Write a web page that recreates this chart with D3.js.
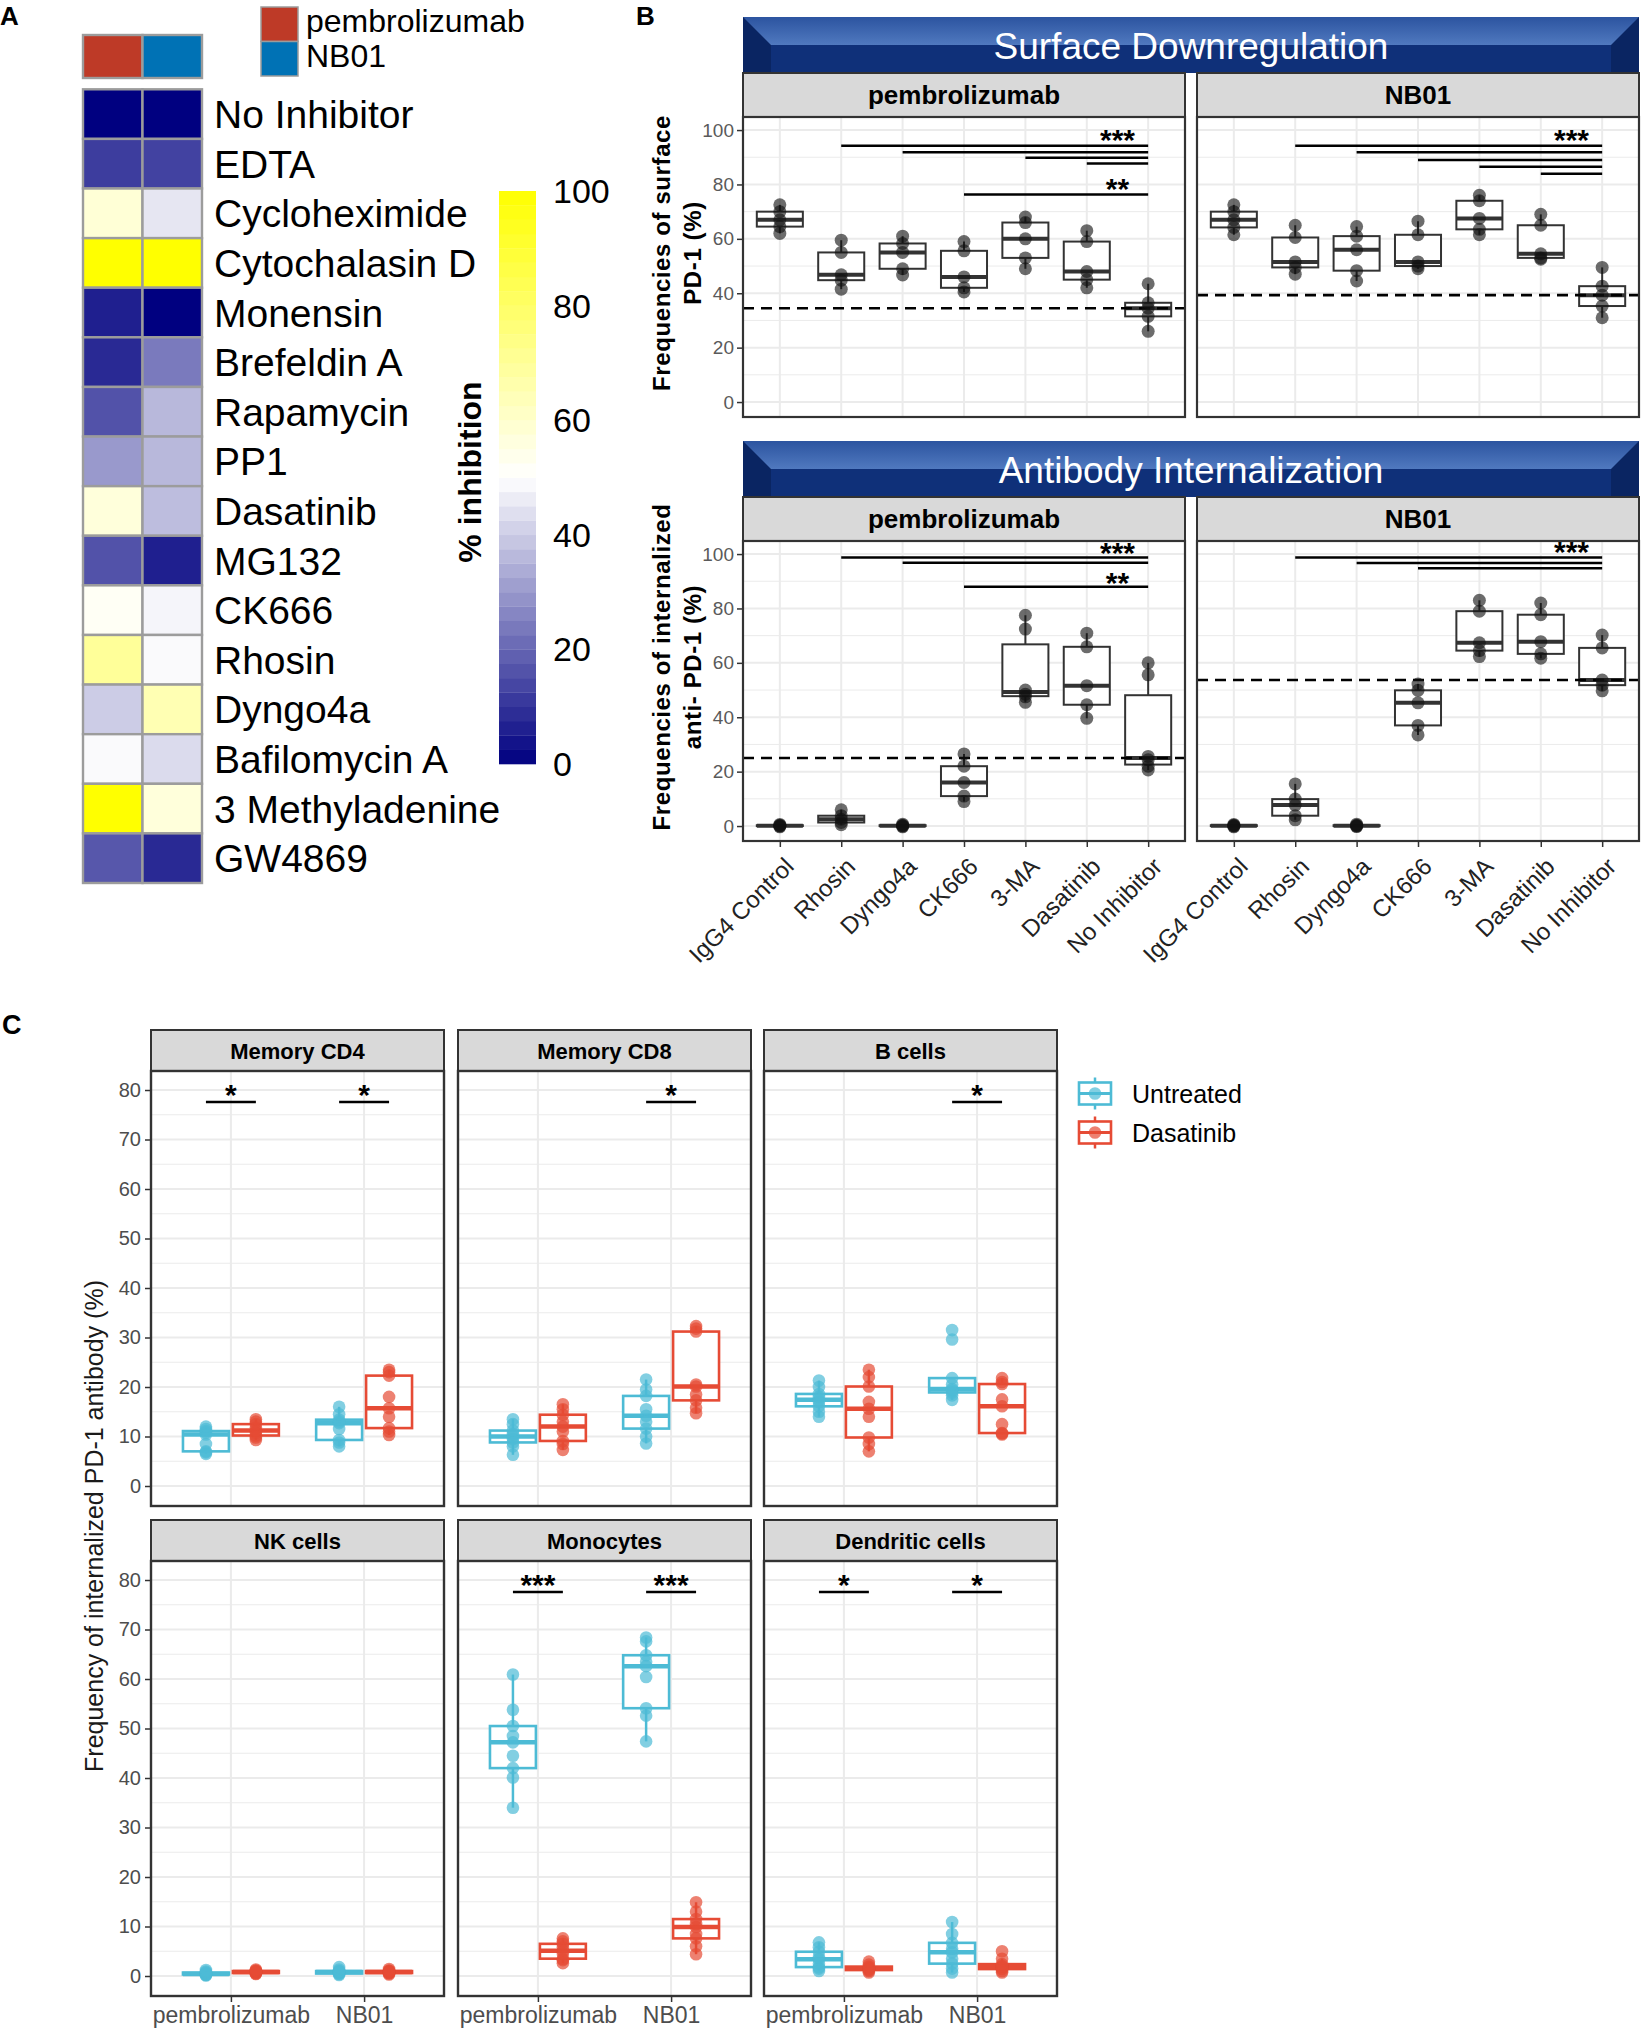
<!DOCTYPE html>
<html><head><meta charset="utf-8">
<script src="https://cdn.jsdelivr.net/npm/d3@7"></script>
<style>
body{margin:0;background:#fff}
svg{display:block}
text{font-family:"Liberation Sans",Arial,Helvetica,sans-serif}
</style>
</head><body>
<svg id="chart" width="1648" height="2030"></svg>
<script>
// ================= DATA =================
// Panel A: heatmap of % inhibition
const inhibitors = ["No Inhibitor","EDTA","Cycloheximide","Cytochalasin D","Monensin","Brefeldin A","Rapamycin","PP1","Dasatinib","MG132","CK666","Rhosin","Dyngo4a","Bafilomycin A","3 Methyladenine","GW4869"];
const antibodies = ["pembrolizumab","NB01"];
const antibodyColors = ["#BE3A27","#0072B5"];
const inhibPembro = [0,12,58,100,6,8,16,30,57,16,52,70,40,49,100,17];
const inhibNB01   = [0,13,45,100,0,24,36,36,37,6,48,49,65,43,57,8];
const colorbarTicks = [0,20,40,60,80,100];

// Panel B: box plots (points per group)
const bCats = ["IgG4 Control","Rhosin","Dyngo4a","CK666","3-MA","Dasatinib","No Inhibitor"];
const bTicks = [0,20,40,60,80,100];
const surfPembro = [[62,64.5,67,70,72.5],[41.5,44.8,46.8,55,59.5],[46.7,49,55,58.3,61],[40.5,42,46,55.6,59],[49,53,60,66,68],[42,45,48,59,63],[26,31.5,34.5,36.5,43.5]];
const surfNB01   = [[61.5,64.2,67,70,72.5],[47,49.5,51.5,60.5,65],[44.5,48.3,56,61,64.5],[49,50,51.5,61.5,66.5],[61.5,63.5,67.5,74,76],[52.5,53,54.5,65,69],[31,35.3,39.3,42.6,49.5]];
const intPembro  = [[-0.3,0,0.1,0.3,0.6],[0.5,1.3,2.5,3.8,6],[-0.3,0,0.1,0.3,0.7],[9,11,16,22,26.5],[45.5,47.5,48.5,50,72.4,77.5],[39.6,44.6,51.6,65.9,70.9],[20.6,22,24.4,25.6,55.6,60]];
const intNB01    = [[-0.3,0,0.1,0.3,0.6],[2.3,3.8,7.7,9.9,15.5],[-0.2,0,0.1,0.3,0.7],[33.5,37,45.3,49.9,52.2],[62.3,64.5,67.4,79,83],[61.7,63.3,67.8,77.7,82],[49.7,51.8,53.7,65.5,70.2]];
// significance: [from, to, y]
const sigSurfPembro = [["Rhosin","No Inhibitor",94.2],["Dyngo4a","No Inhibitor",91.8],["3-MA","No Inhibitor",89.8],["Dasatinib","No Inhibitor",87.7],["CK666","No Inhibitor",76.3]];
const lblSurfPembro = [["***",97.5],["**",79.5]];
const sigSurfNB01 = [["Rhosin","No Inhibitor",94.2],["Dyngo4a","No Inhibitor",91.8],["CK666","No Inhibitor",89],["3-MA","No Inhibitor",86.5],["Dasatinib","No Inhibitor",83.9]];
const lblSurfNB01 = [["***",97.5]];
const sigIntPembro = [["Rhosin","No Inhibitor",98.7],["Dyngo4a","No Inhibitor",96.8],["CK666","No Inhibitor",88]];
const lblIntPembro = [["***",101.3],["**",90.3]];
const sigIntNB01 = [["Rhosin","No Inhibitor",98.7],["Dyngo4a","No Inhibitor",96.7],["CK666","No Inhibitor",94.8]];
const lblIntNB01 = [["***",101.9]];

// Panel C: order within each cell type: pembro-Untreated, pembro-Dasatinib, NB01-Untreated, NB01-Dasatinib
const cCells = ["Memory CD4","Memory CD8","B cells","NK cells","Monocytes","Dendritic cells"];
const cTreatments = ["Untreated","Dasatinib"];
const cColors = ["#4DBBD5","#E64B35"];
const cTicks = [0,10,20,30,40,50,60,70,80];
const memCD4 = [[6.5,6.8,7.0,8.5,10.4,10.8,11.1,11.5,12],[9.3,9.8,10.2,10.8,11.2,11.8,12.5,13,13.5],[8,8.8,9.3,11.5,12.7,13,13.4,14.5,16],[10.3,11,11.7,14,15.7,18,22.3,23,23.5]];
const memCD8 = [[6.3,8,8.8,9.5,10,10.5,11.2,12.5,13.5],[7.3,8.5,9.1,11,12,13,14.4,15.5,16.5],[8.6,10,11.6,13,14.2,15.5,18.2,19.5,21.5],[14.7,15.8,17.3,18.5,20.1,20.5,31.2,31.8,32.3]];
const bCells = [[14,15,16.1,17,17.4,18,18.6,20,21.3],[7,8.5,9.8,14,15.6,17,20.1,22,23.5],[17.4,18.3,18.9,19.3,19.6,20.5,21.8,29.6,31.5],[10.4,10.6,10.7,12.5,16.1,17.5,20.6,21,21.8]];
const nkCells = [[0.1,0.2,0.3,0.4,0.4,0.5,0.7,0.9,1.2],[0.4,0.5,0.6,0.7,0.8,0.9,1.0,1.1,1.3],[0.2,0.4,0.5,0.6,0.8,0.9,1.0,1.3,1.8],[0.3,0.5,0.6,0.7,0.8,0.9,1.0,1.1,1.4]];
const monocytes = [[34,40.1,42,44.5,47.2,48.5,50.5,53.8,60.9],[2.6,3.2,3.5,4.5,5.1,5.8,6.5,7,7.6],[47.4,52.6,54.1,60.4,62.6,63.5,64.8,67.6,68.4],[4.4,6,7.6,8.5,9.9,10.5,11.5,13,14.9]];
const dendritic = [[1,1.5,1.8,2.5,3.4,3.8,4.9,5.8,6.8],[0.7,1.0,1.2,1.4,1.5,1.7,1.9,2.3,2.9],[0.7,1.5,2.5,3.5,4.8,5.5,6.7,8.5,10.9],[0.7,1.0,1.4,1.6,1.9,2.0,2.4,3.5,5]];
const cSig = [["Memory CD4","pembrolizumab","*"],["Memory CD4","NB01","*"],["Memory CD8","NB01","*"],["B cells","NB01","*"],["Monocytes","pembrolizumab","***"],["Monocytes","NB01","***"],["Dendritic cells","pembrolizumab","*"],["Dendritic cells","NB01","*"]];
const cSigLevel = 77.6;

// ================= DRAW =================
const svg = d3.select("#chart");
const STAR = 30;
function stats(v){
  const s = v.slice().sort(d3.ascending);
  const q1 = d3.quantile(s,0.25), med = d3.quantile(s,0.5), q3 = d3.quantile(s,0.75), iqr = q3-q1;
  return {q1, med, q3, lo: d3.min(s.filter(d=>d>=q1-1.5*iqr)), hi: d3.max(s.filter(d=>d<=q3+1.5*iqr))};
}
function label(t,x,y,size){ svg.append("text").attr("x",x).attr("y",y).attr("font-size",size).attr("font-weight","bold").text(t); }
label("A",0,25,26); label("B",636,25,26); label("C",2,1034,27);

// ---------- Panel A ----------
const colorA = d3.scaleLinear().domain([0,50,100]).range(["#000080","#ffffff","#ffff00"]);
const xA = d3.scaleBand().domain(antibodies).range([83,202]);
const yA = d3.scaleBand().domain(inhibitors).range([89.3,883]);
const gA = svg.append("g");
const hmVals = [inhibPembro, inhibNB01];
antibodies.forEach((ab,j)=>{
  gA.selectAll(null).data(inhibitors).join("rect")
    .attr("x",xA(ab)).attr("y",d=>yA(d)).attr("width",xA.bandwidth()).attr("height",yA.bandwidth())
    .attr("fill",(d,i)=>colorA(hmVals[j][i])).attr("stroke","#9c9c9c").attr("stroke-width",2.4);
});
gA.selectAll(null).data(antibodies).join("rect")
  .attr("x",d=>xA(d)).attr("y",35).attr("width",xA.bandwidth()).attr("height",43)
  .attr("fill",(d,i)=>antibodyColors[i]).attr("stroke","#9c9c9c").attr("stroke-width",2.4);
gA.selectAll(null).data(inhibitors).join("text")
  .attr("x",214).attr("y",d=>yA(d)+yA.bandwidth()/2+14).attr("font-size",39).attr("fill","#000").text(d=>d);
// annotation legend
const legA = d3.scaleBand().domain(antibodies).range([7,76]);
gA.selectAll(null).data(antibodies).join("rect")
  .attr("x",261).attr("y",d=>legA(d)).attr("width",37).attr("height",legA.bandwidth())
  .attr("fill",(d,i)=>antibodyColors[i]).attr("stroke","#9c9c9c").attr("stroke-width",1.5);
gA.selectAll(null).data(antibodies).join("text")
  .attr("x",306).attr("y",d=>legA(d)+legA.bandwidth()/2+8).attr("font-size",32).text(d=>d);
// colorbar
const yCB = d3.scaleLinear().domain([0,100]).range([764,191]);
const bandStep = 2.5;
gA.selectAll(null).data(d3.range(0,100,bandStep)).join("rect")
  .attr("x",499).attr("width",37).attr("y",d=>yCB(d+bandStep)).attr("height",d=>yCB(d)-yCB(d+bandStep)+0.3)
  .attr("fill",d=>colorA(d+bandStep/2));
gA.selectAll(null).data(colorbarTicks).join("text")
  .attr("x",553).attr("y",d=>yCB(d)+12).attr("font-size",34).text(d=>d);
gA.append("text").attr("transform","translate(481,472) rotate(-90)").attr("text-anchor","middle")
  .attr("font-size",32).attr("font-weight","bold").text("% inhibition");

// ---------- Panel B ----------
const bW = 442, bH = 300;
const bColX = [743,1197];
const bRowY = [117,541];
const yB = d3.scaleLinear().domain([-5.5,104.8]).range([bH,0]);
const xB = d3.scalePoint().domain(bCats).range([0,bW]).padding(0.6);
const bMinor = [10,30,50,70,90];
const banners = ["Surface Downregulation","Antibody Internalization"];
const bTitles = [["Frequencies of surface","PD-1 (%)"],["Frequencies of internalized","anti- PD-1 (%)"]];
const bTitleY = [253,667];
const bPanels = [
  {r:0,c:0,data:surfPembro,sig:sigSurfPembro,lbl:lblSurfPembro},
  {r:0,c:1,data:surfNB01,sig:sigSurfNB01,lbl:lblSurfNB01},
  {r:1,c:0,data:intPembro,sig:sigIntPembro,lbl:lblIntPembro},
  {r:1,c:1,data:intNB01,sig:sigIntNB01,lbl:lblIntNB01}
];
const defs = svg.append("defs");
const grad = defs.append("linearGradient").attr("id","bevTop").attr("x1",0).attr("y1",0).attr("x2",0).attr("y2",1);
grad.append("stop").attr("offset",0).attr("stop-color","#2C54A0");
grad.append("stop").attr("offset",1).attr("stop-color","#5079BF");

banners.forEach((t,r)=>{
  const top = bRowY[r]-44-56, x0 = bColX[0], x1 = bColX[1]+bW;
  const g = svg.append("g");
  g.append("rect").attr("x",x0).attr("y",top).attr("width",x1-x0).attr("height",56).attr("fill","#0A2562");
  g.append("rect").attr("x",x0+28).attr("y",top+28).attr("width",x1-x0-56).attr("height",28).attr("fill","#0F3079");
  g.append("polygon").attr("points",`${x0},${top} ${x1},${top} ${x1-28},${top+28} ${x0+28},${top+28}`).attr("fill","url(#bevTop)");
  g.append("text").attr("x",(x0+x1)/2).attr("y",top+42).attr("text-anchor","middle").attr("fill","#fff")
    .attr("font-size",37).text(t);
  bTitles[r].forEach((line,k)=>{
    svg.append("text").attr("transform",`translate(${670+k*31},${bTitleY[r]}) rotate(-90)`)
      .attr("text-anchor","middle").attr("font-size",24).attr("font-weight","bold").attr("letter-spacing",0.6).text(line);
  });
});

bPanels.forEach(p=>{
  const px = bColX[p.c], py = bRowY[p.r];
  svg.append("rect").attr("x",px).attr("y",py-44).attr("width",bW).attr("height",44).attr("fill","#D9D9D9").attr("stroke","#333").attr("stroke-width",2);
  svg.append("text").attr("x",px+bW/2).attr("y",py-44+22+9).attr("text-anchor","middle").attr("font-size",26).attr("font-weight","bold").text(antibodies[p.c]);
  const g = svg.append("g").attr("transform",`translate(${px},${py})`);
  g.append("rect").attr("width",bW).attr("height",bH).attr("fill","#fff");
  g.selectAll(null).data(bMinor).join("line").attr("x1",0).attr("x2",bW).attr("y1",d=>yB(d)).attr("y2",d=>yB(d)).attr("stroke","#EBEBEB").attr("stroke-width",1);
  g.selectAll(null).data(bTicks).join("line").attr("x1",0).attr("x2",bW).attr("y1",d=>yB(d)).attr("y2",d=>yB(d)).attr("stroke","#EBEBEB").attr("stroke-width",2);
  g.selectAll(null).data(bCats).join("line").attr("y1",0).attr("y2",bH).attr("x1",d=>xB(d)).attr("x2",d=>xB(d)).attr("stroke","#EBEBEB").attr("stroke-width",2);
  const bw = xB.step()*0.75;
  bCats.forEach((c,i)=>{
    const s = stats(p.data[i]), cx = xB(c);
    g.append("line").attr("x1",cx).attr("x2",cx).attr("y1",yB(s.hi)).attr("y2",yB(s.q3)).attr("stroke","#333").attr("stroke-width",2);
    g.append("line").attr("x1",cx).attr("x2",cx).attr("y1",yB(s.q1)).attr("y2",yB(s.lo)).attr("stroke","#333").attr("stroke-width",2);
    g.append("rect").attr("x",cx-bw/2).attr("width",bw).attr("y",yB(s.q3)).attr("height",Math.max(0.5,yB(s.q1)-yB(s.q3)))
      .attr("fill","#fff").attr("stroke","#333").attr("stroke-width",2);
    g.append("line").attr("x1",cx-bw/2).attr("x2",cx+bw/2).attr("y1",yB(s.med)).attr("y2",yB(s.med)).attr("stroke","#333").attr("stroke-width",4);
  });
  const ref = stats(p.data[bCats.indexOf("No Inhibitor")]).med;
  g.append("line").attr("x1",0).attr("x2",bW).attr("y1",yB(ref)).attr("y2",yB(ref)).attr("stroke","#000").attr("stroke-width",2.6).attr("stroke-dasharray","11,7");
  bCats.forEach((c,i)=>{
    g.selectAll(null).data(p.data[i]).join("circle").attr("cx",xB(c)).attr("cy",d=>yB(d)).attr("r",6.5).attr("fill","#111").attr("fill-opacity",0.62);
  });
  g.selectAll(null).data(p.sig).join("line").attr("x1",d=>xB(d[0])).attr("x2",d=>xB(d[1])).attr("y1",d=>yB(d[2])).attr("y2",d=>yB(d[2])).attr("stroke","#000").attr("stroke-width",2.5);
  const lx = (xB("Dasatinib")+xB("No Inhibitor"))/2;
  g.selectAll(null).data(p.lbl).join("text").attr("x",lx).attr("y",d=>yB(d[1])+0.43*STAR).attr("text-anchor","middle").attr("font-size",STAR).attr("font-weight","bold").text(d=>d[0]);
  g.append("rect").attr("width",bW).attr("height",bH).attr("fill","none").attr("stroke","#333").attr("stroke-width",2.2);
  if(p.c===0){
    const ax = g.append("g").call(d3.axisLeft(yB).tickValues(bTicks).tickSize(6).tickPadding(3));
    ax.select(".domain").remove();
    ax.selectAll("line").attr("stroke","#333").attr("stroke-width",1.5);
    ax.selectAll("text").attr("font-size",19).attr("fill","#5a5a5a").attr("font-family",'"Liberation Sans",Arial,sans-serif');
  }
  if(p.r===1){
    const ax = g.append("g").attr("transform",`translate(0,${bH})`).call(d3.axisBottom(xB).tickSize(6));
    ax.select(".domain").remove();
    ax.selectAll("line").attr("stroke","#333").attr("stroke-width",1.5);
    ax.selectAll("text").attr("font-size",24).attr("fill","#222").attr("font-family",'"Liberation Sans",Arial,sans-serif')
      .attr("text-anchor","end").attr("dy",null).attr("y",null).attr("transform","translate(15,27) rotate(-45)");
  }
});

// ---------- Panel C ----------
const cW = 293, cH = 435;
const cColX = [151,458,764];
const cRowY = [1071,1561];
const yC = d3.scaleLinear().domain([-4.04,83.84]).range([cH,0]);
const xC = d3.scalePoint().domain(antibodies).range([0,cW]).padding(0.6);
const cMinor = d3.range(5,80,10);
const cData = [memCD4, memCD8, bCells, nkCells, monocytes, dendritic];
const dodge = xC.step()*0.1875;
const cbw = xC.step()*0.345;
cCells.forEach((cell,k)=>{
  const r = Math.floor(k/3), c = k%3, px = cColX[c], py = cRowY[r];
  svg.append("rect").attr("x",px).attr("y",py-41).attr("width",cW).attr("height",41).attr("fill","#D9D9D9").attr("stroke","#333").attr("stroke-width",2);
  svg.append("text").attr("x",px+cW/2).attr("y",py-41+20.5+8).attr("text-anchor","middle").attr("font-size",22).attr("font-weight","bold").text(cell);
  const g = svg.append("g").attr("transform",`translate(${px},${py})`);
  g.append("rect").attr("width",cW).attr("height",cH).attr("fill","#fff");
  g.selectAll(null).data(cMinor).join("line").attr("x1",0).attr("x2",cW).attr("y1",d=>yC(d)).attr("y2",d=>yC(d)).attr("stroke","#EBEBEB").attr("stroke-width",1.2);
  g.selectAll(null).data(cTicks).join("line").attr("x1",0).attr("x2",cW).attr("y1",d=>yC(d)).attr("y2",d=>yC(d)).attr("stroke","#EBEBEB").attr("stroke-width",2);
  g.selectAll(null).data(antibodies).join("line").attr("y1",0).attr("y2",cH).attr("x1",d=>xC(d)).attr("x2",d=>xC(d)).attr("stroke","#EBEBEB").attr("stroke-width",2);
  const groups = [];
  antibodies.forEach((ab,a)=>cTreatments.forEach((tr,t)=>groups.push({cx:xC(ab)+(t===0?-dodge:dodge), col:cColors[t], vals:cData[k][a*2+t]})));
  groups.forEach(gr=>{
    const s = stats(gr.vals);
    g.append("line").attr("x1",gr.cx).attr("x2",gr.cx).attr("y1",yC(s.hi)).attr("y2",yC(s.q3)).attr("stroke",gr.col).attr("stroke-width",2.5);
    g.append("line").attr("x1",gr.cx).attr("x2",gr.cx).attr("y1",yC(s.q1)).attr("y2",yC(s.lo)).attr("stroke",gr.col).attr("stroke-width",2.5);
    g.append("rect").attr("x",gr.cx-cbw/2).attr("width",cbw).attr("y",yC(s.q3)).attr("height",Math.max(0.5,yC(s.q1)-yC(s.q3)))
      .attr("fill","#fff").attr("stroke",gr.col).attr("stroke-width",2.6);
    g.append("line").attr("x1",gr.cx-cbw/2).attr("x2",gr.cx+cbw/2).attr("y1",yC(s.med)).attr("y2",yC(s.med)).attr("stroke",gr.col).attr("stroke-width",4.5);
  });
  groups.forEach(gr=>{
    g.selectAll(null).data(gr.vals).join("circle").attr("cx",gr.cx).attr("cy",d=>yC(d)).attr("r",6.3).attr("fill",gr.col).attr("fill-opacity",0.7);
  });
  const sigs = cSig.filter(d=>d[0]===cell);
  g.selectAll(null).data(sigs).join("line").attr("x1",d=>xC(d[1])-dodge).attr("x2",d=>xC(d[1])+dodge)
    .attr("y1",yC(cSigLevel)).attr("y2",yC(cSigLevel)).attr("stroke","#000").attr("stroke-width",2.5);
  g.selectAll(null).data(sigs).join("text").attr("x",d=>xC(d[1])).attr("y",yC(cSigLevel)-9.5+0.43*STAR)
    .attr("text-anchor","middle").attr("font-size",STAR).attr("font-weight","bold").text(d=>d[2]);
  g.append("rect").attr("width",cW).attr("height",cH).attr("fill","none").attr("stroke","#333").attr("stroke-width",2.4);
  if(c===0){
    const ax = g.append("g").call(d3.axisLeft(yC).tickValues(cTicks).tickSize(6).tickPadding(4));
    ax.select(".domain").remove();
    ax.selectAll("line").attr("stroke","#333").attr("stroke-width",1.5);
    ax.selectAll("text").attr("font-size",20).attr("fill","#4D4D4D").attr("font-family",'"Liberation Sans",Arial,sans-serif');
  }
  if(r===1){
    const ax = g.append("g").attr("transform",`translate(0,${cH})`).call(d3.axisBottom(xC).tickSize(6).tickPadding(5));
    ax.select(".domain").remove();
    ax.selectAll("line").attr("stroke","#333").attr("stroke-width",1.5);
    ax.selectAll("text").attr("font-size",23).attr("fill","#4D4D4D").attr("font-family",'"Liberation Sans",Arial,sans-serif');
  }
});
svg.append("text").attr("transform","translate(103,1526) rotate(-90)").attr("text-anchor","middle")
  .attr("font-size",25).attr("fill","#1a1a1a").text("Frequency of internalized PD-1 antibody (%)");
// legend C
const legC = d3.scaleBand().domain(cTreatments).range([1074,1152]);
cTreatments.forEach((t,i)=>{
  const cy = legC(t)+legC.bandwidth()/2, cx = 1095, col = cColors[i];
  const g = svg.append("g");
  g.append("line").attr("x1",cx).attr("x2",cx).attr("y1",cy-16).attr("y2",cy+16).attr("stroke",col).attr("stroke-width",2.5);
  g.append("rect").attr("x",cx-16).attr("y",cy-11).attr("width",32).attr("height",22).attr("fill","#fff").attr("stroke",col).attr("stroke-width",2.6);
  g.append("line").attr("x1",cx-16).attr("x2",cx+16).attr("y1",cy).attr("y2",cy).attr("stroke",col).attr("stroke-width",3);
  g.append("circle").attr("cx",cx).attr("cy",cy).attr("r",6.3).attr("fill",col).attr("fill-opacity",0.7);
  g.append("text").attr("x",1132).attr("y",cy+9).attr("font-size",25).text(t);
});
</script>
</body></html>
